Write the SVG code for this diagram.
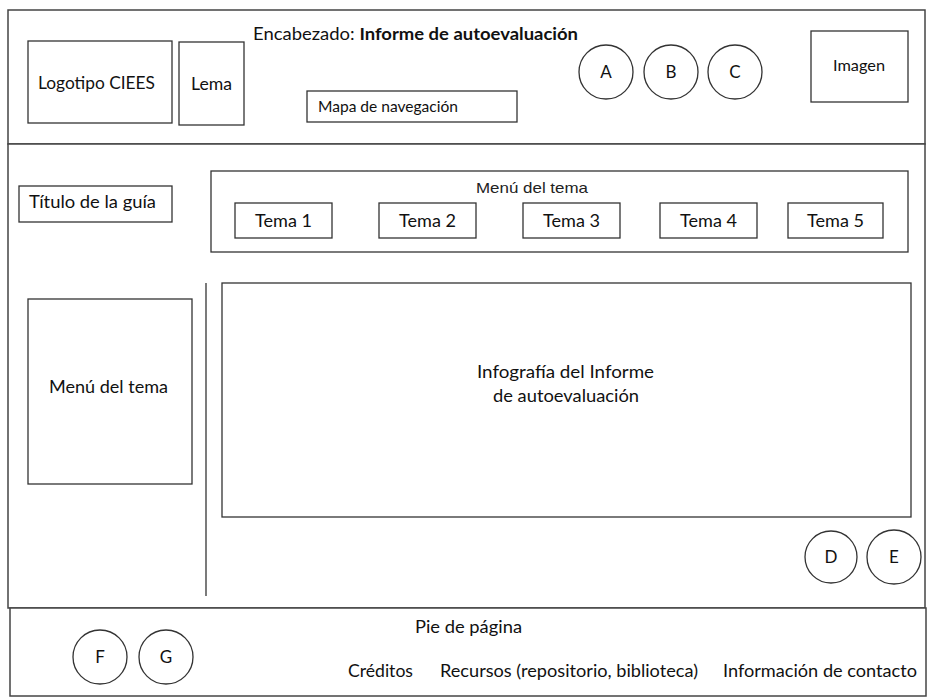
<svg xmlns="http://www.w3.org/2000/svg" width="929" height="698" viewBox="0 0 929 698">
<style>
  .frame{fill:#fff;stroke:#444;stroke-width:1.5}
  .box{fill:#fff;stroke:#333;stroke-width:1.3}
  .t{font-family:Lato,"Liberation Sans",sans-serif;font-size:17px;fill:#111}
  .s{font-family:Lato,"Liberation Sans",sans-serif;font-size:15px;fill:#111}
  .a{font-family:"Liberation Sans",Arial,sans-serif;font-size:15px;fill:#222}
  .c{text-anchor:middle}
</style>
<rect width="929" height="698" fill="#fff"/>
<g id="header">
  <rect class="frame" x="8" y="10" width="917" height="134"/>
  <text class="t" x="253" y="40" textLength="325" lengthAdjust="spacingAndGlyphs">Encabezado: <tspan font-weight="bold">Informe de autoevaluación</tspan></text>
</g>
<g id="main">
  <rect class="frame" x="8" y="144" width="917" height="464"/>
</g>
<g id="footer">
  <rect class="frame" x="10" y="608" width="916" height="88"/>
  <text class="t" x="415" y="633" textLength="107" lengthAdjust="spacingAndGlyphs">Pie de página</text>
  <text class="t" x="348" y="677" textLength="65" lengthAdjust="spacingAndGlyphs">Créditos</text>
  <text class="t" x="440" y="677" textLength="258" lengthAdjust="spacingAndGlyphs">Recursos (repositorio, biblioteca)</text>
  <text class="t" x="723" y="677" textLength="194" lengthAdjust="spacingAndGlyphs">Información de contacto</text>
</g>
<g id="logotipo">
  <rect class="box" x="28" y="41" width="144" height="82"/>
  <text class="t" x="38" y="89" textLength="117" lengthAdjust="spacingAndGlyphs">Logotipo CIEES</text>
</g>
<g id="lema">
  <rect class="box" x="179" y="42" width="65" height="83"/>
  <text class="t" x="191" y="90" textLength="41" lengthAdjust="spacingAndGlyphs">Lema</text>
</g>
<g id="mapa">
  <rect class="box" x="307" y="91" width="210" height="31"/>
  <text class="s" x="318" y="112" textLength="140" lengthAdjust="spacingAndGlyphs">Mapa de navegación</text>
</g>
<g id="btnA"><circle class="box" cx="606" cy="72" r="27"/><text class="t c" x="606" y="78">A</text></g>
<g id="btnB"><circle class="box" cx="671" cy="72" r="27"/><text class="t c" x="671" y="78">B</text></g>
<g id="btnC"><circle class="box" cx="735" cy="72" r="27"/><text class="t c" x="735" y="78">C</text></g>
<g id="imagen">
  <rect class="box" x="811" y="31" width="97" height="71"/>
  <text class="s" x="833" y="71" textLength="52" lengthAdjust="spacingAndGlyphs">Imagen</text>
</g>
<g id="titulo">
  <rect class="box" x="19" y="186" width="153" height="36"/>
  <text class="t" x="29" y="208" textLength="127" lengthAdjust="spacingAndGlyphs">Título de la guía</text>
</g>
<g id="menu-top">
  <rect class="box" x="211" y="171" width="697" height="81"/>
  <text class="a" x="476" y="193" textLength="112" lengthAdjust="spacingAndGlyphs">Menú del tema</text>
</g>
<g id="tema1"><rect class="box" x="235" y="203" width="97" height="35"/><text class="t" x="255" y="227" textLength="57" lengthAdjust="spacingAndGlyphs">Tema 1</text></g>
<g id="tema2"><rect class="box" x="379" y="203" width="97" height="35"/><text class="t" x="399" y="227" textLength="57" lengthAdjust="spacingAndGlyphs">Tema 2</text></g>
<g id="tema3"><rect class="box" x="523" y="203" width="97" height="35"/><text class="t" x="543" y="227" textLength="57" lengthAdjust="spacingAndGlyphs">Tema 3</text></g>
<g id="tema4"><rect class="box" x="660" y="203" width="97" height="35"/><text class="t" x="680" y="227" textLength="57" lengthAdjust="spacingAndGlyphs">Tema 4</text></g>
<g id="tema5"><rect class="box" x="788" y="203" width="95" height="35"/><text class="t" x="807" y="227" textLength="57" lengthAdjust="spacingAndGlyphs">Tema 5</text></g>
<g id="menu-left">
  <rect class="box" x="28" y="299" width="164" height="185"/>
  <text class="t" x="49" y="393" textLength="119" lengthAdjust="spacingAndGlyphs">Menú del tema</text>
</g>
<g id="connectors">
  <line x1="206" y1="283" x2="206" y2="596" stroke="#333" stroke-width="1.3"/>
</g>
<g id="infografia">
  <rect class="box" x="222" y="283" width="689" height="234"/>
  <text class="t" x="477" y="378" textLength="177" lengthAdjust="spacingAndGlyphs">Infografía del Informe</text>
  <text class="t" x="493" y="402" textLength="146" lengthAdjust="spacingAndGlyphs">de autoevaluación</text>
</g>
<g id="btnD"><circle class="box" cx="831" cy="557" r="26"/><text class="t c" x="831" y="563">D</text></g>
<g id="btnE"><circle class="box" cx="894" cy="557" r="27"/><text class="t c" x="894" y="563">E</text></g>
<g id="btnF"><circle class="box" cx="100" cy="657" r="27"/><text class="t c" x="100" y="663">F</text></g>
<g id="btnG"><circle class="box" cx="166" cy="657" r="27"/><text class="t c" x="166" y="663">G</text></g>
</svg>
